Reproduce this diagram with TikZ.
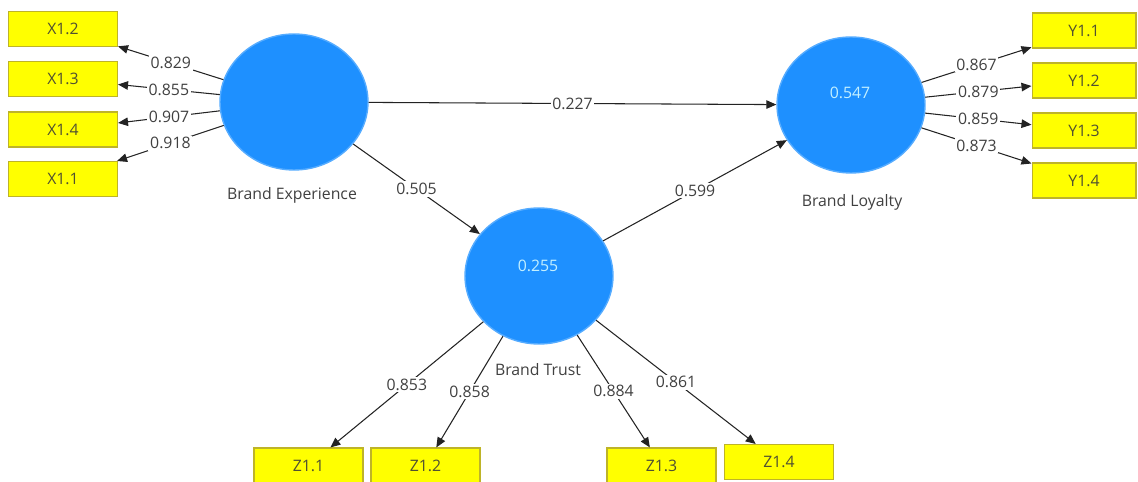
\documentclass[tikz,border=0pt]{standalone}
\usepackage{fontspec}
\setmainfont{Open Sans}
\usetikzlibrary{shapes.geometric, arrows.meta}

\definecolor{latent}{RGB}{30,144,255}
\definecolor{rsqtext}{RGB}{195,240,255}
\definecolor{itembox}{RGB}{255,255,0}
\definecolor{itemedge}{RGB}{190,180,40}
\definecolor{itemtext}{RGB}{80,80,50}
\definecolor{pathline}{RGB}{35,35,35}

\tikzset{
  construct/.style={ellipse, fill=latent, draw=latent!75, line width=0.8pt,
    minimum width=2.96cm, minimum height=2.72cm, inner sep=0pt},
  item/.style={rectangle, fill=itembox, draw=itemedge, line width=0.6pt,
    minimum width=2.18cm, minimum height=0.7cm, inner sep=0pt, text=itemtext,
    font=\fontsize{9}{11}\selectfont},
  loading/.style={draw=pathline, line width=0.6pt, -{Triangle[length=2mm,width=1.7mm]}},
  coef/.style={fill=white, inner sep=1pt, text=black!75, font=\fontsize{9}{11}\selectfont},
  rsq/.style={text=rsqtext, font=\fontsize{9}{11}\selectfont},
  caption/.style={text=black!75, font=\fontsize{9}{11}\selectfont}
}

\begin{document}
\begin{tikzpicture}[x=0.02cm, y=-0.02cm]
\useasboundingbox (0,0) rectangle (1138,482);

% latent variables
\node[construct] (BE) at (294,102) {};
\node[caption] (BEa) at (292,195) {Brand Experience};
\node[construct] (BT) at (539,276) {};
\node[rsq] (BTr) at (538,266) {0.255};
\node[caption] (BTa) at (538,370) {Brand Trust};
\node[construct] (BL) at (851,105) {};
\node[rsq] (BLr) at (850,93) {0.547};
\node[caption] (BLa) at (852,202) {Brand Loyalty};

% indicators
\node[item] (x12) at (63,29) {X1.2};
\node[item] (x13) at (63,79) {X1.3};
\node[item] (x14) at (63,129.5) {X1.4};
\node[item] (x11) at (63,179) {X1.1};
\node[item, minimum width=2.08cm] (y11) at (1084,30.5) {Y1.1};
\node[item, minimum width=2.08cm] (y12) at (1084,80.5) {Y1.2};
\node[item, minimum width=2.08cm] (y13) at (1084,130.5) {Y1.3};
\node[item, minimum width=2.08cm] (y14) at (1084,180.5) {Y1.4};
\node[item] (z11) at (308.5,465.5) {Z1.1};
\node[item] (z12) at (425.5,465.5) {Z1.2};
\node[item] (z13) at (661.5,465.5) {Z1.3};
\node[item] (z14) at (779,462) {Z1.4};

% outer loadings
\draw[loading] (BE) -- node[coef] {0.829} (x12);
\draw[loading] (BE) -- node[coef] {0.855} (x13);
\draw[loading] (BE) -- node[coef] {0.907} (x14);
\draw[loading] (BE) -- node[coef] {0.918} (x11);
\draw[loading] (BL) -- node[coef] {0.867} (y11);
\draw[loading] (BL) -- node[coef] {0.879} (y12);
\draw[loading] (BL) -- node[coef] {0.859} (y13);
\draw[loading] (BL) -- node[coef] {0.873} (y14);
\draw[loading] (BT) -- node[coef] {0.853} (z11);
\draw[loading] (BT) -- node[coef] {0.858} (z12);
\draw[loading] (BT) -- node[coef] {0.884} (z13);
\draw[loading] (BT) -- node[coef] {0.861} (z14);

% path coefficients
\draw[loading] (BE) -- node[coef] {0.227} (BL);
\draw[loading] (BE) -- node[coef] {0.505} (BT);
\draw[loading] (BT) -- node[coef] {0.599} (BL);
\end{tikzpicture}
\end{document}
